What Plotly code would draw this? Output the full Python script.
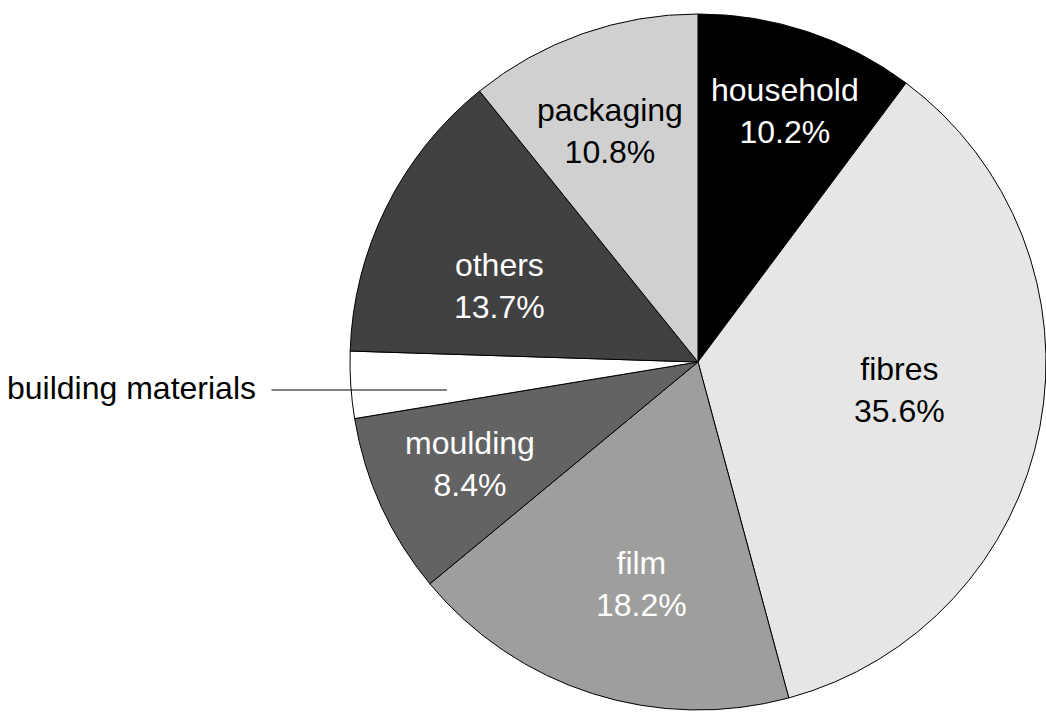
import math
import plotly.graph_objects as go

labels = ["household", "fibres", "film", "moulding", "building materials", "others", "packaging"]
values = [10.2, 35.6, 18.2, 8.4, 3.1, 13.7, 10.8]
colors = ["#000000", "#e6e6e6", "#9e9e9c", "#636363", "#ffffff", "#414141", "#d0d0d0"]
text_colors = ["white", "black", "white", "white", "black", "white", "black"]
# label placement style (fraction of radius, angle nudge in degrees); None = outside label
label_r = [0.763, 0.586, 0.657, 0.717, None, 0.611, 0.709]
label_nudge = [0.8, -2.9, -3.3, 0.3, 0.0, -5.5, -1.4]

W, H = 1046, 713
dom_x = [0.3346, 1.0]
dom_y = [0.0, 0.9846]
FONT = "Liberation Sans, Arial"

fig = go.Figure(go.Pie(
    labels=labels,
    values=values,
    sort=False,
    direction="clockwise",
    rotation=0,
    marker=dict(colors=colors, line=dict(color="black", width=1)),
    textinfo="none",
    domain=dict(x=dom_x, y=dom_y),
    showlegend=False,
    hoverinfo="label+percent",
))

# pie geometry as laid out by plotly
cx = (dom_x[0] + dom_x[1]) / 2 * W
cy = (1 - (dom_y[0] + dom_y[1]) / 2) * H
R = min((dom_x[1] - dom_x[0]) * W, (dom_y[1] - dom_y[0]) * H) / 2

total = sum(values)
cum = 0.0
for lab, v, tc, fr, nd in zip(labels, values, text_colors, label_r, label_nudge):
    mid = (cum + v / 2) / total * 360 + nd
    cum += v
    if fr is None:
        continue
    px = cx + fr * R * math.sin(math.radians(mid))
    py = cy - fr * R * math.cos(math.radians(mid))
    fig.add_annotation(
        x=px / W, y=1 - py / H, xref="paper", yref="paper",
        xanchor="center", yanchor="middle",
        text=f"{lab}<br>{v / total * 100:.1f}%", showarrow=False,
        font=dict(family=FONT, size=32, color=tc),
    )

# outside label for building materials with leader line
fig.add_annotation(
    x=447 / W, y=1 - 390 / H, xref="paper", yref="paper",
    ax=-177, ay=0, axref="pixel", ayref="pixel",
    text="", showarrow=True, arrowhead=0, arrowwidth=1, arrowcolor="black",
)
fig.add_annotation(
    x=258 / W, y=1 - 388 / H, xref="paper", yref="paper",
    xanchor="right", yanchor="middle",
    text="building materials", showarrow=False,
    font=dict(family=FONT, size=32, color="black"),
)

fig.update_layout(
    width=W, height=H,
    margin=dict(l=0, r=0, t=0, b=0),
    paper_bgcolor="white", plot_bgcolor="white",
)

fig.write_html("out.html")
